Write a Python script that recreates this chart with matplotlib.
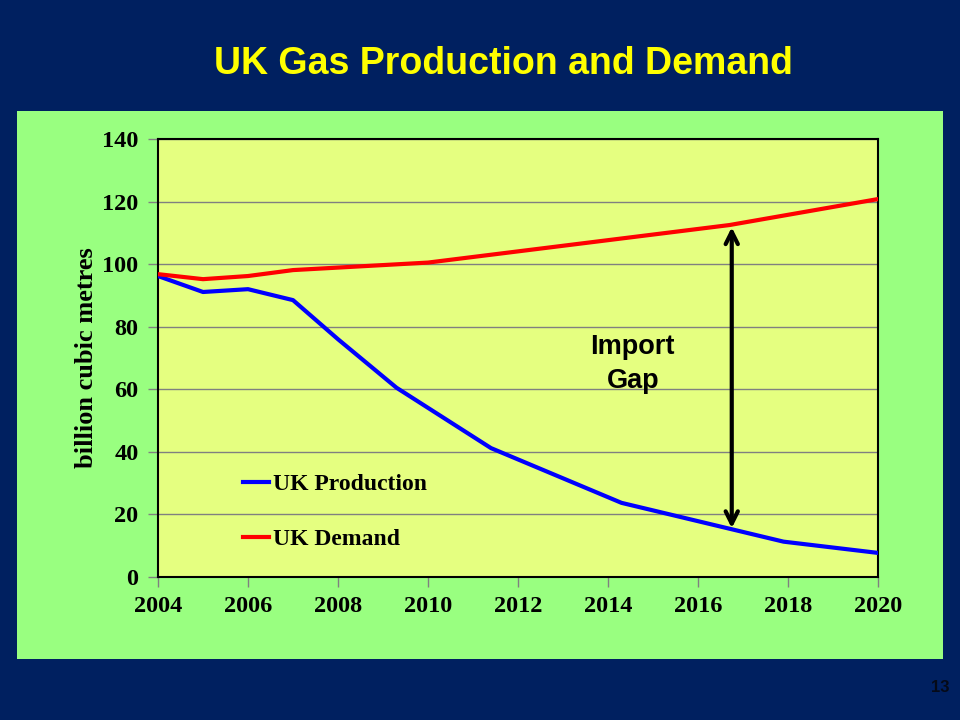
import matplotlib
matplotlib.use("Agg")
import matplotlib.pyplot as plt
from matplotlib.patches import Rectangle
from matplotlib.font_manager import FontProperties

# Values (billion cubic metres)
ProdYears = [2004, 2005, 2006, 2007, 2008, 2009.3, 2011.4, 2014.3, 2017.9, 2020]
Production = [96.2, 91.1, 92.0, 88.5, 76.0, 60.5, 41.2, 23.7, 11.3, 7.7]

DemYears = [2004, 2005, 2006, 2007, 2010, 2016.7, 2020]
Demand = [96.8, 95.2, 96.2, 98.1, 100.5, 112.5, 120.8]

XTicks = [2004, 2006, 2008, 2010, 2012, 2014, 2016, 2018, 2020]
YTicks = [0, 20, 40, 60, 80, 100, 120, 140]

# Arrow showing the gap
GapYear = 2016.75
GapLow = 15.6
GapHigh = 111.8

Navy = "#002060"
Panel = "#99FF80"
PlotBg = "#E5FF80"
Serif = "Liberation Serif"
Sans = "Liberation Sans"

fig = plt.figure(figsize=(9.6, 7.2), dpi=100, facecolor=Navy)

# Green panel behind the chart
fig.patches.append(Rectangle((17 / 960, 1 - 659 / 720), 926 / 960, 548 / 720,
                             transform=fig.transFigure, facecolor=Panel,
                             edgecolor="none", zorder=-1))

ax = fig.add_axes([158 / 960, 1 - 577 / 720, 720 / 960, 438 / 720])
ax.set_zorder(1)
ax.set_facecolor(PlotBg)

ax.plot(ProdYears, Production, color="#0000FF", lw=3, label="UK Production", zorder=3)
ax.plot(DemYears, Demand, color="#FF0000", lw=3, label="UK Demand", zorder=3)

ax.set_xlim(2004, 2020)
ax.set_ylim(0, 140)
ax.set_xticks(XTicks)
ax.set_yticks(YTicks)
ax.grid(axis="y", color="#808080", lw=1)
ax.set_axisbelow(True)

for s in ax.spines.values():
    s.set_color("black")
    s.set_linewidth(1.5)

ax.tick_params(axis="both", direction="out", length=7, width=1, color="#808080",
               labelsize=17.5, pad=7)
for lab in ax.get_xticklabels() + ax.get_yticklabels():
    lab.set_fontfamily(Serif)
    lab.set_fontweight("bold")

ax.set_ylabel("billion cubic metres", labelpad=3,
              fontproperties=FontProperties(family=Serif, weight="bold", size=19))

leg = ax.legend(loc="lower left", bbox_to_anchor=(0.088, 0.013), frameon=False,
                handlelength=1.1, handletextpad=0.2, labelspacing=1.4,
                prop={"family": Serif, "weight": "bold", "size": 17})

# Import gap arrow and label
ax.annotate("", xy=(GapYear, GapLow), xytext=(GapYear, GapHigh),
            arrowprops=dict(arrowstyle="<->", color="black", lw=3,
                            mutation_scale=22, shrinkA=0, shrinkB=0), zorder=4)
ax.text(2014.55, 68, "Import\nGap", ha="center", va="center", fontsize=19.5,
        fontfamily=Sans, fontweight="bold", linespacing=1.4)

fig.text(503 / 960, 1 - 64 / 720, "UK Gas Production and Demand", ha="center",
         va="center", color="#FFFF00", fontsize=27, fontfamily=Sans,
         fontweight="bold")
fig.text(940 / 960, 1 - 687 / 720, "13", ha="center", va="center", color="#050A18",
         fontsize=12, fontfamily=Sans, fontweight="bold")

fig.savefig("out.png", dpi=100, facecolor=Navy)
